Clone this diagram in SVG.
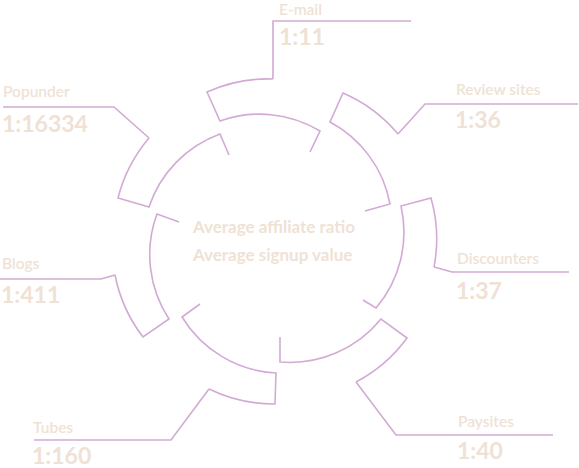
<svg xmlns="http://www.w3.org/2000/svg" width="579" height="468" viewBox="0 0 579 468">
<style>
.ln{fill:none;stroke:#d2aad4;stroke-width:1.6;stroke-linejoin:miter;stroke-linecap:butt}
.lb{font-family:Lato,"Liberation Sans",sans-serif;font-size:15.5px;font-weight:600;fill:#efe2d5}
.num{font-family:Lato,"Liberation Sans",sans-serif;font-size:23px;font-weight:bold;fill:#efe2d5}
.ctr{font-family:Lato,"Liberation Sans",sans-serif;font-size:17px;font-weight:bold;fill:#efe2d5}
</style>
<rect width="579" height="468" fill="#ffffff"/>
<g id="connectors">
<path class="ln" d="M411,21 H273 V79"/>
<path class="ln" d="M578,104 H425 L398,134"/>
<path class="ln" d="M569,272 H452 L434,267"/>
<path class="ln" d="M553,435 H396 L356,382"/>
<path class="ln" d="M34,440 H171 L209,389"/>
<path class="ln" d="M0,279 H101 L115,275"/>
<path class="ln" d="M3,107 H114 L149,138"/>
</g>
<g id="email">
<path class="ln" d="M273,79 A149,149 0 0 0 207,92 L220,121 A117,117 0 0 1 320,131 L310,152"/>
<text class="lb" x="279" y="14.5">E-mail</text>
<text class="num" x="279" y="45">1:11</text>
</g>
<g id="review">
<path class="ln" d="M398,134 A149,149 0 0 0 343,93 L330,122 A117,117 0 0 1 390,204 L365,211"/>
<text class="lb" x="456" y="95">Review sites</text>
<text class="num" x="455" y="128">1:36</text>
</g>
<g id="discounters">
<path class="ln" d="M434,267 A149,149 0 0 0 431,198 L401,206 A117,117 0 0 1 376,308 L363,300"/>
<text class="lb" x="457" y="264">Discounters</text>
<text class="num" x="456" y="299">1:37</text>
</g>
<g id="paysites">
<path class="ln" d="M356,382 A149,149 0 0 0 407,338 L381,319 A117,117 0 0 1 280,362 L280,337"/>
<text class="lb" x="458" y="427">Paysites</text>
<text class="num" x="457" y="459">1:40</text>
</g>
<g id="tubes">
<path class="ln" d="M209,389 A149,149 0 0 0 275,404 L276,373 A117,117 0 0 1 182,317 L200,304"/>
<text class="lb" x="33" y="433">Tubes</text>
<text class="num" x="32" y="464">1:160</text>
</g>
<g id="blogs">
<path class="ln" d="M115,275 A149,149 0 0 0 143,337 L169,319 A117,117 0 0 1 157,214 L179,222"/>
<text class="lb" x="2" y="269">Blogs</text>
<text class="num" x="1" y="303">1:411</text>
</g>
<g id="popunder">
<path class="ln" d="M149,138 A149,149 0 0 0 118,198 L149,207 A117,117 0 0 1 220,134 L229,155"/>
<text class="lb" x="3" y="97">Popunder</text>
<text class="num" x="2" y="132">1:16334</text>
</g>
<g id="center">
<text class="ctr" x="193" y="233">Average affiliate ratio</text>
<text class="ctr" x="193" y="261">Average signup value</text>
</g>
</svg>
